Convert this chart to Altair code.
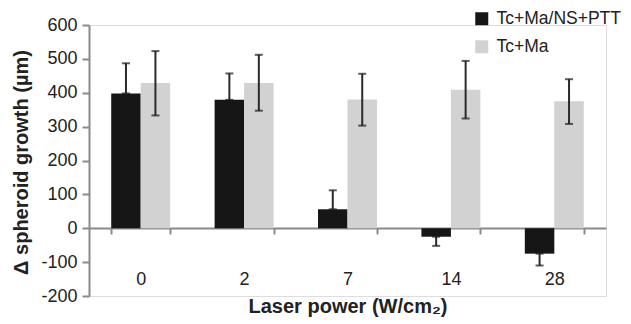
import altair as alt
import pandas as pd

categories = ["0", "2", "7", "14", "28"]
series = ["Tc+Ma/NS+PTT", "Tc+Ma"]
treated = [398, 379, 56, -25, -75]
treated_lo = [398, 379, 56, -52, -110]
treated_hi = [487, 457, 112, -25, -75]
control = [429, 429, 380, 409, 375]
control_lo = [333, 347, 303, 324, 308]
control_hi = [523, 512, 456, 494, 440]
y_ticks = [-200, -100, 0, 100, 200, 300, 400, 500, 600]

rows = []
for i, c in enumerate(categories):
    rows.append({"cat": c, "series": series[0], "value": treated[i], "lo": treated_lo[i], "hi": treated_hi[i]})
    rows.append({"cat": c, "series": series[1], "value": control[i], "lo": control_lo[i], "hi": control_hi[i]})
df = pd.DataFrame(rows)

FONT = "Liberation Sans"
GRAY = "#8a8a8a"

xaxis = alt.Axis(title="Laser power (W/cm₂)", labelAngle=0, offset=-68,
                 tickBand="extent", tickSize=6, tickColor=GRAY, tickWidth=2,
                 domainColor=GRAY, domainWidth=2,
                 labelFontSize=18, labelFont=FONT, labelColor="#222",
                 labelPadding=36,
                 titleFontSize=20, titleFont=FONT, titleFontWeight="bold",
                 titleColor="#222", titleY=78, titleBaseline="middle")
xscale = alt.Scale(paddingInner=0.43, paddingOuter=0.215)


def X():
    return alt.X("cat:N", sort=categories, scale=xscale, axis=xaxis)


xo = alt.XOffset("series:N", sort=series)

color = alt.Color("series:N", sort=series,
                  scale=alt.Scale(domain=series, range=["#161616", "#d2d2d2"]),
                  legend=alt.Legend(title=None, orient="none", legendX=384, legendY=-15,
                                    symbolType="square", symbolSize=169, symbolStrokeWidth=0,
                                    labelFontSize=17.5, labelFont=FONT, labelColor="#222",
                                    labelOffset=6, rowPadding=9, padding=0, labelLimit=200))

yscale = alt.Scale(domain=[-200, 600], nice=False)
yaxis = alt.Axis(title="Δ spheroid growth (µm)", values=y_ticks, labelOverlap=False,
                 labelExpr="'' + datum.value",
                 grid=False, tickSize=7, tickColor=GRAY, tickWidth=2,
                 domainColor=GRAY, domainWidth=2,
                 labelFontSize=18, labelFont=FONT, labelColor="#222", labelPadding=5,
                 titleFontSize=20, titleFont=FONT, titleFontWeight="bold",
                 titleColor="#222", titleX=-58, titleY=137)


def Y(field):
    return alt.Y(field, scale=yscale, axis=yaxis, title="Δ spheroid growth (µm)")


base = alt.Chart(df)
bars = base.mark_bar(size=29.5).encode(
    x=X(), xOffset=xo, y=Y("value:Q"), color=color,
)
rules = base.mark_rule(color="#2a2a2a", strokeWidth=2).encode(
    x=X(), xOffset=xo, y=Y("lo:Q"), y2="hi:Q",
)
cap_hi = base.mark_tick(color="#1a1a1a", thickness=2, size=8, orient="horizontal").encode(
    x=X(), xOffset=xo, y=Y("hi:Q"),
)
cap_lo = base.mark_tick(color="#1a1a1a", thickness=2, size=8, orient="horizontal").encode(
    x=X(), xOffset=xo, y=Y("lo:Q"),
)

chart = alt.layer(bars, rules, cap_hi, cap_lo).properties(
    width=517, height=271,
    autosize=alt.AutoSizeParams(type="none"),
    padding={"left": 81, "top": 17, "right": 17, "bottom": 23},
).configure_view(stroke=None).configure(background="white")

chart.save("out.html", embed_options={"renderer": "svg", "actions": False})
